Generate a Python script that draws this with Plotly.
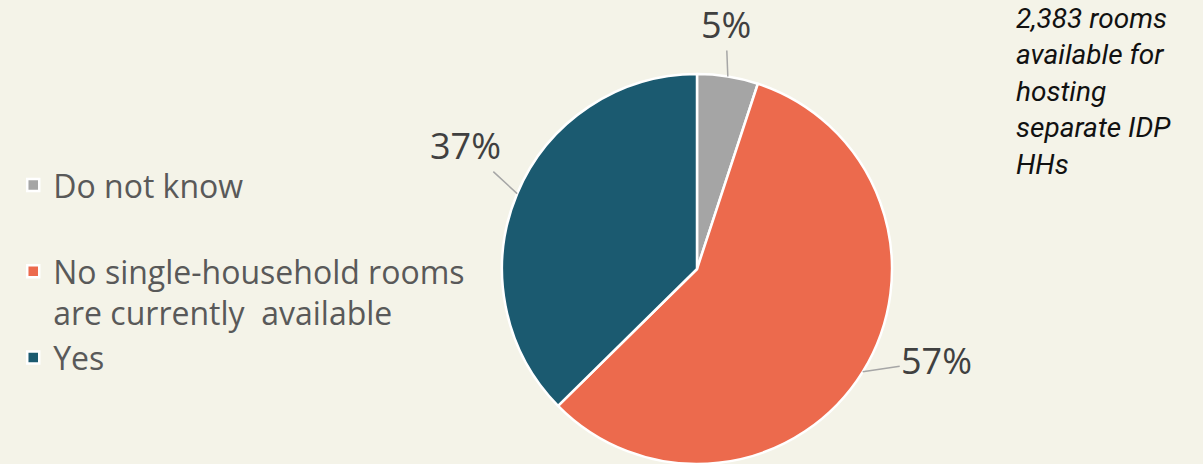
import math
import plotly.graph_objects as go

categories = ["Do not know", "No single-household rooms<br>are currently  available", "Yes"]
values = [5, 57, 37]
pct_labels = ["5%", "57%", "37%"]
colors = ["#A5A5A5", "#EC6A4D", "#1B5A70"]
note = "2,383 rooms<br>available for<br>hosting<br>separate IDP<br>HHs"

W, H = 1203, 464
cx, cy, r = 697, 269, 195  # pie centre / radius in px

fig = go.Figure()
fig.add_trace(go.Pie(
    labels=[c if i != 0 else c + "<br> " for i, c in enumerate(categories)],
    values=values,
    sort=False,
    direction="clockwise",
    rotation=0,
    marker=dict(colors=colors, line=dict(color="white", width=2.5)),
    textinfo="none",
    hoverinfo="label+percent",
    domain=dict(x=[(cx - r) / W, (cx + r) / W], y=[(H - cy - r) / H, (H - cy + r) / H]),
))

# percentage labels with leader lines at slice mid-angles
offsets = [(-2, -52), (74, -11), (-52, -48)]
total = sum(values)
acc = 0
for v, lab, (ox, oy) in zip(values, pct_labels, offsets):
    mid = (acc + v / 2) / total * 2 * math.pi
    acc += v
    px = cx + r * math.sin(mid)
    py = cy - r * math.cos(mid)
    fig.add_annotation(
        x=px / W, y=(H - py) / H, xref="paper", yref="paper",
        text=lab, showarrow=True, arrowhead=0, arrowwidth=1.5, arrowcolor="#A6A6A6",
        ax=ox, ay=oy, font=dict(family="Open Sans", size=36, color="#404040"),
    )

fig.add_annotation(
    x=1014 / W, y=1.0, xref="paper", yref="paper", xanchor="left", yanchor="top",
    text="<i>" + note + "</i>", showarrow=False, align="left",
    font=dict(family="Roboto", size=28, color="#111111"),
)

fig.update_layout(
    width=W, height=H,
    margin=dict(l=0, r=0, t=0, b=0),
    paper_bgcolor="#F4F3E8",
    plot_bgcolor="#F4F3E8",
    showlegend=True,
    legend=dict(x=0.011, y=0.66, xanchor="left", yanchor="top", valign="top",
                font=dict(family="Open Sans", size=32, color="#595959"),
                itemwidth=30, bgcolor="rgba(0,0,0,0)"),
)

fig.write_html("out.html", config={"displayModeBar": False},
               post_script="document.body.style.margin='0';")
